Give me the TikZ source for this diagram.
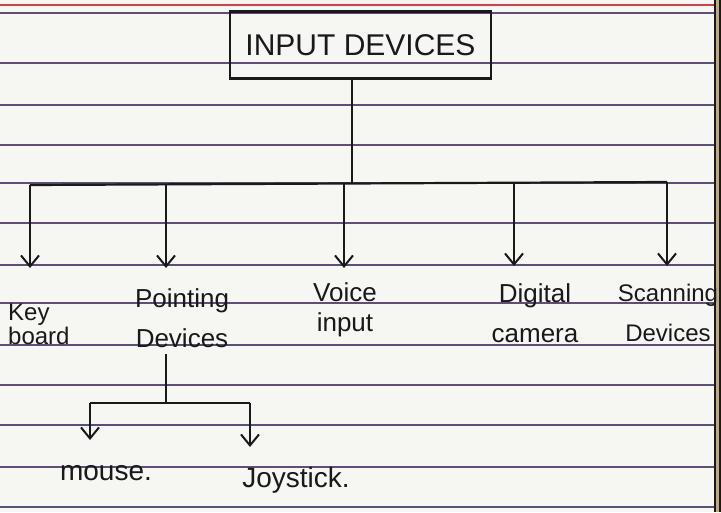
\documentclass[tikz,border=0pt]{standalone}
\usepackage{fontspec}
\setmainfont{Liberation Sans}
\usetikzlibrary{arrows.meta}
\definecolor{paper}{RGB}{246,246,243}
\definecolor{rule}{RGB}{95,78,120}
\definecolor{redrule}{RGB}{220,60,70}
\definecolor{ink}{RGB}{25,25,25}
\definecolor{edge}{RGB}{190,170,130}
\tikzset{
  ruled/.style={rule, line width=1.1pt},
  wire/.style={ink, line width=2.2pt},
  arrowwire/.style={wire, -{Straight Barb[length=11pt,width=18pt,line width=2pt]}},
  titlebox/.style={draw=ink, line width=2.2pt, minimum width=261pt, minimum height=67pt, inner sep=0pt, font=\fontsize{30}{33}\selectfont, text=ink},
  lbl/.style={align=center, text=ink, inner sep=0pt},
}
\begin{document}
\begin{tikzpicture}[x=1pt,y=-1pt]
\useasboundingbox (0,0) rectangle (721,512);
\fill[paper] (0,0) rectangle (721,512);
% ruled paper
\draw[redrule, line width=1.3pt] (0,5) -- (721,5);
\draw[ruled] (0,13) -- (721,13);
\foreach \yy in {63,105,145,183,223,265,303,345,385,425,467,507}
  \draw[ruled] (0,\yy) -- (721,\yy);
\fill[edge] (714,0) rectangle (721,512);
\draw[ink, line width=1.5pt] (715,0) -- (715,512);
\draw[ink, line width=1.2pt] (720,0) -- (720,512);

% title
\node[titlebox] (title) at (360.5,45) {INPUT DEVICES};

% labels
\node[lbl, align=left, anchor=west, font=\fontsize{24}{24}\selectfont] (key) at (8,324) {Key\\board};
\node[lbl, font=\fontsize{26}{40}\selectfont] (point) at (182,318) {Pointing\\Devices};
\node[lbl, font=\fontsize{26}{30}\selectfont] (voice) at (345,310) {Voice\\input};
\node[lbl, font=\fontsize{26}{40}\selectfont] (digital) at (535,313) {Digital\\camera};
\node[lbl, font=\fontsize{24}{40}\selectfont] (scan) at (668,313) {Scanning\\Devices};
\node[lbl, font=\fontsize{28}{30}\selectfont] (mouse) at (106,473) {mouse.};
\node[lbl, font=\fontsize{28}{30}\selectfont] (joy) at (296,480) {Joystick.};

% main tree
\coordinate (hub) at (352,184);
\coordinate (b1) at (30,185);
\coordinate (b2) at (166,185);
\coordinate (b3) at (344,184);
\coordinate (b4) at (514,183);
\coordinate (b5) at (667,182);
\coordinate (t1) at (30,268);
\coordinate (t2) at (166,268);
\coordinate (t3) at (344,268);
\coordinate (t4) at (514,266);
\coordinate (t5) at (667,266);
\draw[wire] (title.south -| hub) -- (hub);
\draw[wire] (b1) -- (b5);
\draw[arrowwire] (b1) -- (t1);
\draw[arrowwire] (b2) -- (t2);
\draw[arrowwire] (b3) -- (t3);
\draw[arrowwire] (b4) -- (t4);
\draw[arrowwire] (b5) -- (t5);

% sub tree
\coordinate (shub) at (166,403);
\coordinate (s1) at (90,403);
\coordinate (s2) at (250,403);
\coordinate (u1) at (90,440);
\coordinate (u2) at (250,447);
\draw[wire, shorten <=6pt] (point.south -| shub) -- (shub);
\draw[wire] (s1) -- (s2);
\draw[arrowwire] (s1) -- (u1);
\draw[arrowwire] (s2) -- (u2);
\end{tikzpicture}
\end{document}
